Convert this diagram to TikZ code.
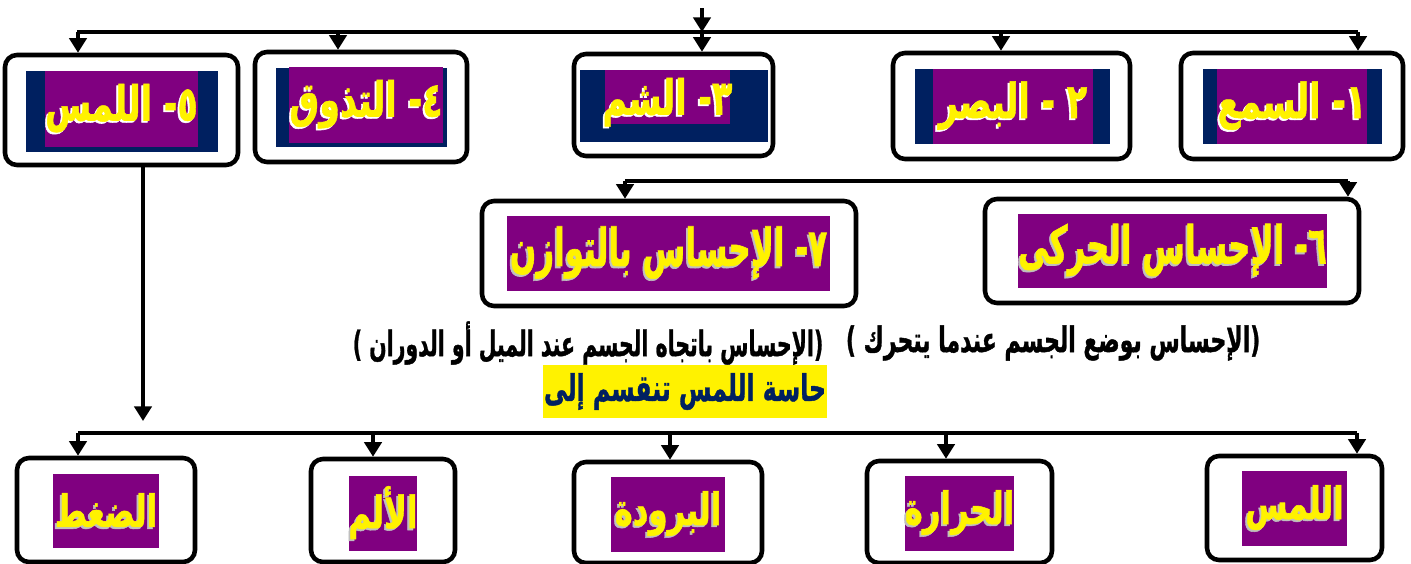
\documentclass[tikz,border=0pt]{standalone}
\usepackage{fontspec}
\newfontfamily\arabicfont[Script=Arabic,BoldFeatures={FakeBold=1.2}]{DejaVu Sans}
\TeXXeTstate=1
\usetikzlibrary{arrows.meta}
\definecolor{purp}{RGB}{128,0,128}
\definecolor{navy}{RGB}{0,32,96}
\newcommand\ar[2][1]{\scalebox{#1}[1.45]{\arabicfont\bfseries\beginR#2\endR}}
\newcommand\shad[2][black!25]{\rlap{\raisebox{-1.4pt}{\hspace*{-1.4pt}\color{#1}\ar{#2}}}\color{yellow}\ar{#2}}

\begin{document}
\begin{tikzpicture}[x=0.75pt,y=-0.75pt,
  wh/.style 2 args={minimum width=#1*0.75pt,minimum height=#2*0.75pt,inner sep=0pt},
  box/.style={draw,line width=3.4pt,rounded corners=9pt},
  back/.style={fill=navy},
  lbl/.style={fill=purp,font=\fontsize{25}{30}\selectfont},
  sub/.style={fill=purp,font=\fontsize{23}{28}\selectfont},
  bus/.style={line width=2.6pt},
  arr/.style={line width=2.6pt,-{Triangle[width=13pt,length=11pt]}}]
\useasboundingbox (0,0) rectangle (1411,564);

% five senses
\node[box,wh={233}{110}] (b5) at (121.5,110) {};
\node[back,wh={192}{81}] at (122,111.5) {};
\node[lbl,wh={151}{76}] (l5) at (121.5,109) {\shad[white]{٥- اللمس}};
\node[box,wh={212}{110}] (b4) at (361,107) {};
\node[back,wh={171}{79}] at (361.5,107.5) {};
\node[lbl,wh={154}{76}] (l4) at (366,105) {\shad[white]{٤- التذوق}};
\node[box,wh={199}{102}] (b3) at (673.5,105) {};
\node[back,wh={188}{72}] at (674,106) {};
\node[lbl,wh={125}{54}] (l3) at (667.5,97) {};
\node at (667.5,103) {\fontsize{25}{30}\selectfont\shad[white]{٣- الشم}};
\node[box,wh={237}{106}] (b2) at (1011.5,106) {};
\node[back,wh={195}{75}] at (1012.5,106.5) {};
\node[lbl,wh={160}{75}] (l2) at (1013,106.5) {\shad[white]{٢ - البصر}};
\node[box,wh={222}{106}] (b1) at (1292,106) {};
\node[back,wh={179}{75}] at (1292.5,106.5) {};
\node[lbl,wh={150}{75}] (l1) at (1292,106.5) {\shad[white]{١- السمع}};

\coordinate (in) at (702,8);
\coordinate (bl) at (77,32);
\coordinate (br) at (1358,32);
\draw[bus] (bl) -- (br);
\draw[arr] (in) -- (in |- bl);
\foreach \n/\x in {5/78,4/338,3/702,2/1001,1/1358}
  \draw[arr] (\x,32) -- (\x,32 |- b\n.north);

% 6 and 7
\node[box,wh={374}{105}] (b7) at (669,253.5) {};
\node[lbl,wh={323}{75},font=\fontsize{25}{30}\selectfont] (l7) at (668.5,253.5) {\scalebox{0.93}[1.08]{\shad{٧- الإحساس بالتوازن}}};
\node[box,wh={374}{104}] (b6) at (1172,251) {};
\node[lbl,wh={307}{74},font=\fontsize{25}{30}\selectfont] (l6) at (1172.5,251) {\scalebox{0.93}[1.08]{\shad{٦- الإحساس الحركى}}};
\coordinate (ml) at (625,181);
\coordinate (mr) at (1348,181);
\draw[bus] (ml) -- (mr);
\draw[arr] (ml) -- (ml |- b7.north);
\draw[arr] (mr) -- (mr |- b6.north);

\node[anchor=east,font=\fontsize{16.5}{20}\selectfont] (d7) at (828,343) {\scalebox{1}[1.1]{\ar[0.93]{(الإحساس باتجاه الجسم عند الميل أو الدوران )}}};
\node[anchor=east,font=\fontsize{16.5}{20}\selectfont] (d6) at (1265,343) {\scalebox{1}[1.1]{\ar{(الإحساس بوضع الجسم عندما يتحرك )}}};
\node[fill=yellow,wh={284}{53},font=\fontsize{19}{24}\selectfont] (hd) at (685,391.5) {\color{navy}\ar[0.93]{حاسة اللمس تنقسم إلى}};

% touch
\coordinate (v) at (143,421);
\draw[arr] (v |- b5.south) -- (v);
\node[box,wh={178}{104}] (t5) at (106,510) {};
\node[sub,wh={106}{74}] at (106,511) {\shad{الضغط}};
\node[box,wh={144}{103}] (t4) at (383,510.5) {};
\node[sub,wh={66}{75}] at (383,513.5) {\shad{الألم}};
\node[box,wh={188}{101}] (t3) at (668,512.5) {};
\node[sub,wh={114}{75}] at (668,514.5) {\shad{البرودة}};
\node[box,wh={185}{102}] (t2) at (959.5,512) {};
\node[sub,wh={109}{75}] at (959.5,513.5) {\shad{الحرارة}};
\node[box,wh={175}{104}] (t1) at (1294.5,508) {};
\node[sub,wh={105}{75}] at (1294.5,508.5) {\shad{اللمس}};
\coordinate (ll) at (78,433);
\coordinate (lr) at (1357,433);
\draw[bus,line width=3.3pt] (ll) -- (lr);
\foreach \n/\x in {5/78,4/373,3/670,2/946,1/1357}
  \draw[arr] (\x,433) -- (\x,433 |- t\n.north);
\end{tikzpicture}
\end{document}
